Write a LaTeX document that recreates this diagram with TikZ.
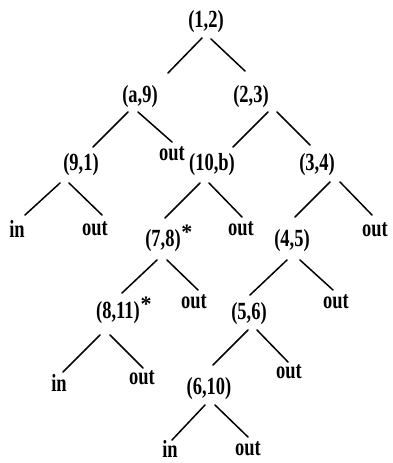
\documentclass[tikz,border=0pt]{standalone}
\usepackage{graphicx}
\usepackage{fontspec}
\setmainfont{Liberation Serif}
\usetikzlibrary{calc}
\newcommand\lbltxt[1]{\scalebox{0.84}[1.12]{\fontsize{22}{22}\selectfont\bfseries #1}}
\tikzset{
  lb/.style={inner sep=0pt, outer sep=0pt},
  br/.style={line width=1.5pt, line cap=round},
  starlbl/.style={inner sep=0pt, anchor=north west, xshift=0.5pt, yshift=5pt, font=\fontsize{22}{22}\selectfont\bfseries}
}
\begin{document}
\begin{tikzpicture}[x=1pt,y=-1pt]
\useasboundingbox (0,0) rectangle (393,463);
\node[lb] (n12) at (206,22) {\lbltxt{(1,2)}};
\node[lb] (a9) at (140,97) {\lbltxt{(a,9)}};
\node[lb] (n23) at (251,97) {\lbltxt{(2,3)}};
\node[lb] (n91) at (81,165) {\lbltxt{(9,1)}};
\node[lb] (out1) at (172,154) {\lbltxt{out}};
\node[lb] (n10b) at (212,165) {\lbltxt{(10,b)}};
\node[lb] (n34) at (317,165) {\lbltxt{(3,4)}};
\node[lb] (in1) at (17,229) {\lbltxt{in}};
\node[lb] (out2) at (95,229) {\lbltxt{out}};
\node[lb,label={[starlbl]north east:*}] (n78) at (163,241) {\lbltxt{(7,8)}};
\node[lb] (out3) at (241,229) {\lbltxt{out}};
\node[lb] (n45) at (292,241) {\lbltxt{(4,5)}};
\node[lb] (out4) at (375,230) {\lbltxt{out}};
\node[lb,label={[starlbl]north east:*}] (n811) at (118,313) {\lbltxt{(8,11)}};
\node[lb] (out5) at (194,302) {\lbltxt{out}};
\node[lb] (n56) at (249,314) {\lbltxt{(5,6)}};
\node[lb] (out6) at (336,302) {\lbltxt{out}};
\node[lb] (in2) at (59,383) {\lbltxt{in}};
\node[lb] (out7) at (142,378) {\lbltxt{out}};
\node[lb] (n610) at (209,389) {\lbltxt{(6,10)}};
\node[lb] (out8) at (289,372) {\lbltxt{out}};
\node[lb] (in3) at (170,449) {\lbltxt{in}};
\node[lb] (out9) at (248,449) {\lbltxt{out}};
\draw[br] ($(n12)+(-4,16)$) -- ($(a9)+(28,-24)$);
\draw[br] ($(n12)+(5,17)$) -- ($(n23)+(-6,-26)$);
\draw[br] ($(a9)+(-12,15)$) -- ($(n91)+(12,-18)$);
\draw[br] ($(a9)+(-2,15)$) -- ($(out1)+(0,-12)$);
\draw[br] ($(n23)+(17,15)$) -- ($(n10b)+(21,-18)$);
\draw[br] ($(n23)+(26,15)$) -- ($(n34)+(-7,-20)$);
\draw[br] ($(n91)+(-21,18)$) -- ($(in1)+(8,-14)$);
\draw[br] ($(n91)+(-12,18)$) -- ($(out2)+(7,-14)$);
\draw[br] ($(n10b)+(-12,18)$) -- ($(n78)+(2,-23)$);
\draw[br] ($(n10b)+(-3,18)$) -- ($(out3)+(1,-12)$);
\draw[br] ($(n34)+(13,17)$) -- ($(n45)+(3,-24)$);
\draw[br] ($(n34)+(23,17)$) -- ($(out4)+(-3,-15)$);
\draw[br] ($(n78)+(-6,19)$) -- ($(n811)+(4,-20)$);
\draw[br] ($(n78)+(4,19)$) -- ($(out5)+(4,-12)$);
\draw[br] ($(n45)+(-5,19)$) -- ($(n56)+(1,-19)$);
\draw[br] ($(n45)+(8,19)$) -- ($(out6)+(-3,-12)$);
\draw[br] ($(n811)+(-18,22)$) -- ($(in2)+(4,-11)$);
\draw[br] ($(n811)+(-8,22)$) -- ($(out7)+(1,-10)$);
\draw[br] ($(n56)+(-1,16)$) -- ($(n610)+(4,-24)$);
\draw[br] ($(n56)+(8,16)$) -- ($(out8)+(-1,-10)$);
\draw[br] ($(n610)+(-4,16)$) -- ($(in3)+(2,-9)$);
\draw[br] ($(n610)+(6,16)$) -- ($(out9)+(0,-12)$);
\end{tikzpicture}
\end{document}
